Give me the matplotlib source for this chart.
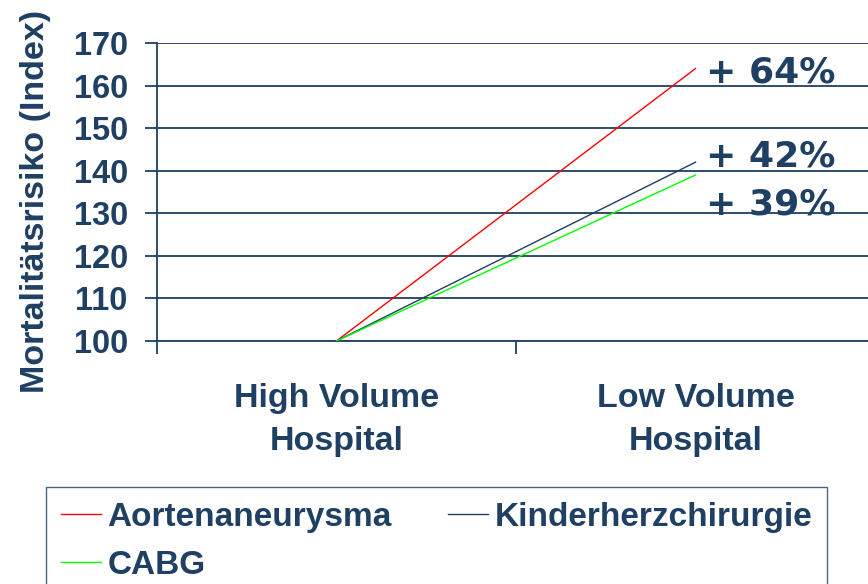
import matplotlib.pyplot as plt
from matplotlib.ticker import FixedLocator

# Mortalitätsrisiko nach Krankenhausvolumen (Index, High Volume = 100)
categories = ['High Volume\nHospital', 'Low Volume\nHospital']
series_names = ['Aortenaneurysma', 'Kinderherzchirurgie', 'CABG']
aorten = [100, 164]
kinder = [100, 142]
cabg = [100, 139]
increase_labels = ['+ 64%', '+ 42%', '+ 39%']
y_ticks = [100, 110, 120, 130, 140, 150, 160, 170]

navy = '#1f3f63'
colors = ['#ff0000', navy, '#00ff00']

plt.rcParams['font.family'] = ['Liberation Sans', 'DejaVu Sans']
plt.rcParams['font.weight'] = 'bold'

fig = plt.figure(figsize=(8.68, 5.84), dpi=100)
ax = fig.add_axes([157 / 868, 1 - 341 / 584, 718 / 868, 298 / 584])

x = [0, 1]
lines = []
for vals, name, c in zip([aorten, kinder, cabg], series_names, colors):
    ln, = ax.plot(x, vals, color=c, lw=1.0, label=name, zorder=3)
    lines.append(ln)

# percentage labels next to the line ends
label_y = [aorten[1], kinder[1], cabg[1]]
offsets = [-1.0, 1.3, -7.0]
for txt, yv, off in zip(increase_labels, label_y, offsets):
    ax.text(1.03, yv + off, txt, family='DejaVu Sans', weight='bold',
            fontsize=26, color=navy, va='center', ha='left')

ax.set_xlim(-0.5, 1.5)
ax.set_ylim(100, 170)
ax.set_yticks(y_ticks)
ax.yaxis.grid(True, color=navy, lw=1.3)
ax.set_axisbelow(True)

ax.set_xticks(x)
ax.set_xticklabels(categories, fontsize=24.5, color=navy, linespacing=1.52)
ax.tick_params(axis='x', which='major', length=0, pad=30)
ax.xaxis.set_minor_locator(FixedLocator([-0.5, 0.5, 1.5]))
ax.tick_params(axis='x', which='minor', length=9, width=1.3, color=navy,
               direction='out')
ax.tick_params(axis='y', length=9, width=1.3, color=navy, labelsize=23.5,
               labelcolor=navy, pad=12)

for side in ['top', 'right']:
    ax.spines[side].set_visible(False)
ax.spines['left'].set_color(navy)
ax.spines['left'].set_linewidth(1.3)
ax.spines['bottom'].set_color(navy)
ax.spines['bottom'].set_linewidth(1.3)

ax.set_ylabel('Mortalitätsrisiko (Index)', fontsize=24.5, color=navy,
              weight='bold')
ax.yaxis.set_label_coords(-0.147, 0.47)

# row-major order: Aortenaneurysma, Kinderherzchirurgie / CABG
order = [0, 2, 1]
leg = fig.legend([lines[i] for i in order], [series_names[i] for i in order],
                 loc='upper left', bbox_to_anchor=(46 / 868, 1 - 487 / 584),
                 ncol=2, fontsize=24, frameon=True, fancybox=False,
                 handlelength=1.2, handletextpad=0.2, columnspacing=1.7,
                 borderpad=0.44, labelspacing=0.51, borderaxespad=0)
leg.get_frame().set_edgecolor(navy)
leg.get_frame().set_linewidth(1.0)
for t in leg.get_texts():
    t.set_color(navy)

fig.savefig('out.png', dpi=100)
